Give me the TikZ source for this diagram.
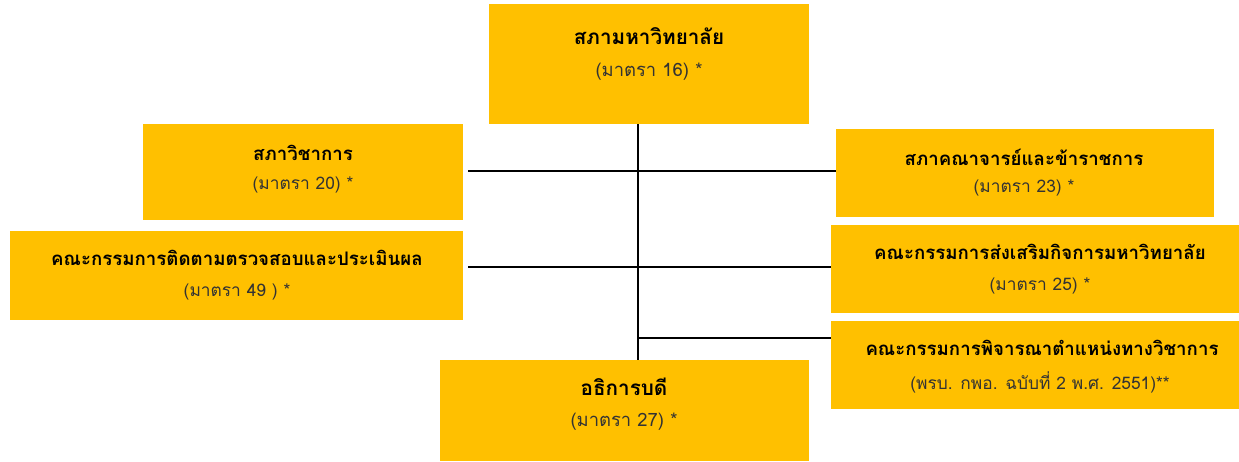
\documentclass[tikz,border=0pt]{standalone}
\usepackage{fontspec}
\newfontfamily\thaifont[Script=Thai]{Loma}
\usetikzlibrary{backgrounds,calc}
\definecolor{gold}{HTML}{FFC000}
\definecolor{subc}{HTML}{333333}
\tikzset{
  box/.style={rectangle, fill=gold, inner sep=0pt, anchor=north west},
  ttl/.style={font=\thaifont\fontsize{14}{16}\selectfont\bfseries, text=black, inner sep=0pt},
  bigttl/.style={font=\thaifont\fontsize{15.5}{18}\selectfont\bfseries, text=black, inner sep=0pt},
  sub/.style={font=\thaifont\fontsize{13}{15}\selectfont, text=subc, inner sep=0pt},
  bigsub/.style={font=\thaifont\fontsize{13.8}{16}\selectfont, text=subc, inner sep=0pt},
  link/.style={draw=black, line width=1.5pt}
}
\begin{document}
\begin{tikzpicture}[x=0.75pt,y=-0.75pt]
\useasboundingbox (0,0) rectangle (1239,461);
% boxes
\node[box, minimum width=320*0.75pt, minimum height=120*0.75pt] (top) at (489,4) {};
\node[box, minimum width=320*0.75pt, minimum height=96*0.75pt] (sv) at (143,124) {};
\node[box, minimum width=453*0.75pt, minimum height=89*0.75pt] (cm) at (10,231) {};
\node[box, minimum width=378*0.75pt, minimum height=88*0.75pt] (sk) at (836,129) {};
\node[box, minimum width=408*0.75pt, minimum height=88*0.75pt] (sc) at (831,225) {};
\node[box, minimum width=408*0.75pt, minimum height=88*0.75pt] (pj) at (831,321) {};
\node[box, minimum width=369*0.75pt, minimum height=101*0.75pt] (rec) at (440,360) {};
% texts
\node[bigttl] (topT) at (649,36) {สภามหาวิทยาลัย};
\node[bigsub] (topS) at (649,72) {(มาตรา 16) *};
\node[ttl] (svT) at (303,153) {สภาวิชาการ};
\node[sub] (svS) at (303,185) {(มาตรา 20) *};
\node[ttl] (cmT) at (237,258) {คณะกรรมการติดตามตรวจสอบและประเมินผล};
\node[sub] (cmS) at (237,292) {(มาตรา 49 ) *};
\node[ttl] (skT) at (1024,157) {สภาคณาจารย์และข้าราชการ};
\node[sub] (skS) at (1024,188) {(มาตรา 23) *};
\node[ttl] (scT) at (1040,252) {คณะกรรมการส่งเสริมกิจการมหาวิทยาลัย};
\node[sub] (scS) at (1040,286) {(มาตรา 25) *};
\node[ttl] (pjT) at (1042,348) {คณะกรรมการพิจารณาตำแหน่งทางวิชาการ};
\node[sub] (pjS) at (1040,382) {(พรบ. กพอ. ฉบับที่ 2 พ.ศ. 2551)**};
\node[bigttl] (recT) at (624,387) {อธิการบดี};
\node[bigsub] (recS) at (624,422) {(มาตรา 27) *};
% connectors
\coordinate (spTop) at (638,124);
\coordinate (spBot) at (638,461);
\coordinate (spJ) at (638,338);
\coordinate (l1) at (468,171);
\coordinate (l2) at (468,267);
\begin{scope}[on background layer]
\draw[link] (spTop) -- (spBot);
\draw[link] (l1) -- (l1 -| sk.west);
\draw[link] (l2) -- (l2 -| sc.west);
\draw[link] (spJ) -- (spJ -| pj.west);
\end{scope}
\end{tikzpicture}
\end{document}
